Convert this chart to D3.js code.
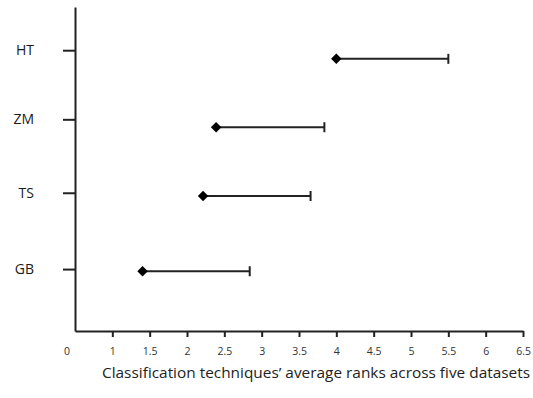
<!DOCTYPE html>
<html>
<head>
<meta charset="utf-8">
<script src="https://cdn.jsdelivr.net/npm/d3@7"></script>
<style>
  body { margin: 0; background: #fff; }
  text { font-family: "Open Sans", sans-serif; }
</style>
</head>
<body>
<script>
// categories top to bottom
var techniques = ["HT", "ZM", "TS", "GB"];
// average rank (diamond) and upper end of the bar
var avgRank = [4.0, 2.39, 2.215, 1.405];
var upperRank = [5.5, 3.84, 3.655, 2.84];
// vertical position of labels/ticks and of the markers
var labelPos = [3.9, 2.94, 1.92, 0.86];
var markerPos = [3.78, 2.83, 1.875, 0.83];
var xTicks = [1, 1.5, 2, 2.5, 3, 3.5, 4, 4.5, 5, 5.5, 6, 6.5];

var W = 533, H = 398;
var svg = d3.select("body").append("svg")
  .attr("width", W).attr("height", H);

var x = d3.scaleLinear().domain([0.5, 6.5]).range([75, 523]);
var y = d3.scaleLinear().domain([0, 4.5]).range([331, 7]);

// x axis
var xAxis = svg.append("g")
  .attr("transform", "translate(0," + y(0) + ")")
  .call(d3.axisBottom(x).tickValues(xTicks).tickSize(6).tickSizeOuter(0)
    .tickFormat(d3.format("")));
xAxis.select(".domain").attr("stroke", "#222").attr("stroke-width", 2);
xAxis.selectAll(".tick line").attr("stroke", "#222").attr("stroke-width", 2);
xAxis.selectAll(".tick text").attr("font-size", 10.5).attr("fill", "#333")
  .attr("dy", "1.4em").attr("font-family", "Open Sans");
// the "0" label at the origin
xAxis.append("text")
  .attr("x", x(0.5) - 8).attr("y", 23.5)
  .attr("text-anchor", "middle").attr("font-size", 10.5).attr("fill", "#333")
  .text("0");

// y axis
var yAxis = svg.append("g")
  .attr("transform", "translate(" + x(0.5) + ",0)")
  .call(d3.axisLeft(y).tickValues(labelPos).tickSize(12).tickSizeOuter(0)
    .tickFormat(function(d, i) { return techniques[i]; }));
yAxis.select(".domain").attr("stroke", "#222").attr("stroke-width", 2);
yAxis.selectAll(".tick line").attr("stroke", "#222").attr("stroke-width", 2);
yAxis.selectAll(".tick text").attr("font-size", 14).attr("fill", "#1a1a1a")
  .attr("x", -41).attr("font-family", "Open Sans");

// bars
var rows = techniques.map(function(t, i) {
  return { name: t, lo: avgRank[i], hi: upperRank[i], pos: markerPos[i] };
});

var g = svg.append("g");
g.selectAll("line.bar").data(rows).enter().append("line")
  .attr("class", "bar")
  .attr("x1", function(d) { return x(d.lo); })
  .attr("x2", function(d) { return x(d.hi); })
  .attr("y1", function(d) { return y(d.pos); })
  .attr("y2", function(d) { return y(d.pos); })
  .attr("stroke", "#222").attr("stroke-width", 2);

g.selectAll("line.cap").data(rows).enter().append("line")
  .attr("class", "cap")
  .attr("x1", function(d) { return x(d.hi); })
  .attr("x2", function(d) { return x(d.hi); })
  .attr("y1", function(d) { return y(d.pos) - 5; })
  .attr("y2", function(d) { return y(d.pos) + 5; })
  .attr("stroke", "#222").attr("stroke-width", 2);

g.selectAll("path.mark").data(rows).enter().append("path")
  .attr("class", "mark")
  .attr("d", d3.symbol().type(d3.symbolDiamond2).size(70))
  .attr("transform", function(d) { return "translate(" + x(d.lo) + "," + y(d.pos) + ")"; })
  .attr("fill", "#000");

// axis title
svg.append("text")
  .attr("x", 316).attr("y", 378)
  .attr("text-anchor", "middle").attr("font-size", 14).attr("fill", "#222")
  .attr("textLength", 428).attr("lengthAdjust", "spacingAndGlyphs")
  .text("Classification techniques’ average ranks across five datasets");
</script>
</body>
</html>
